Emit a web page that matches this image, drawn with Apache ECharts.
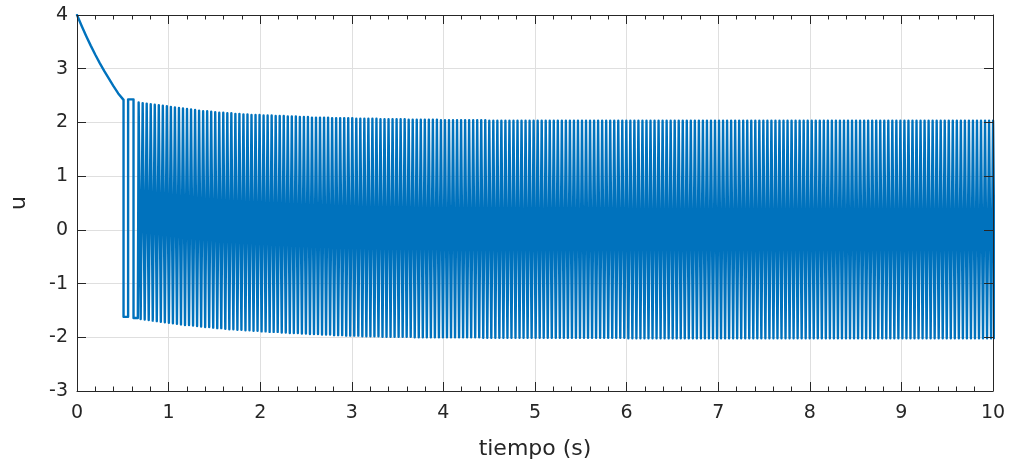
<!DOCTYPE html>
<html>
<head>
<meta charset="utf-8">
<script src="https://cdn.jsdelivr.net/npm/echarts@6/dist/echarts.min.js"></script>
<style>html,body{margin:0;padding:0;background:#fff;}#c{width:1012px;height:470px;}</style>
</head>
<body>
<div id="c"></div>
<script>
// ---- data ----
const xTicks = [0,1,2,3,4,5,6,7,8,9,10];
const yTicks = [-3,-2,-1,0,1,2,3,4];

// initial decay segment (s, u)
const decayT = [0, 0.05, 0.10, 0.15, 0.20, 0.25, 0.30, 0.35, 0.40, 0.45, 0.508];
const decayU = [4.00, 3.80, 3.61, 3.43, 3.26, 3.10, 2.95, 2.81, 2.67, 2.54, 2.42];

// first isolated switching pulses (s, u)
const earlyT = [0.508, 0.558, 0.558, 0.617, 0.617];
const earlyU = [-1.62, -1.62, 2.43, 2.43, -1.64];

// chattering: per cycle rise time and fall time (ms), high and low level (hundredths)
const edgeMs = 9;
const riseMs = [
664,708,752,796,840,884,928,972,1016,1060,
1104,1148,1192,1236,1280,1324,1368,1412,1456,1500,
1544,1588,1632,1676,1720,1764,1808,1852,1896,1940,
1984,2028,2072,2116,2160,2204,2248,2292,2336,2380,
2424,2468,2512,2556,2600,2644,2688,2732,2776,2820,
2864,2908,2952,2996,3040,3084,3128,3172,3216,3260,
3304,3348,3392,3436,3480,3524,3568,3612,3656,3700,
3744,3788,3832,3876,3920,3964,4008,4052,4096,4140,
4184,4228,4272,4316,4360,4404,4448,4492,4536,4580,
4624,4668,4712,4756,4800,4844,4888,4932,4976,5020,
5064,5108,5152,5196,5240,5284,5328,5372,5416,5460,
5504,5548,5592,5636,5680,5724,5768,5812,5856,5900,
5944,5988,6032,6076,6120,6164,6208,6252,6296,6340,
6384,6428,6472,6516,6560,6604,6648,6692,6736,6780,
6824,6868,6912,6956,7000,7044,7088,7132,7176,7220,
7264,7308,7352,7396,7440,7484,7528,7572,7616,7660,
7704,7748,7792,7836,7880,7924,7968,8012,8056,8100,
8144,8188,8232,8276,8320,8364,8408,8452,8496,8540,
8584,8628,8672,8716,8760,8804,8848,8892,8936,8980,
9024,9068,9112,9156,9200,9244,9288,9332,9376,9420,
9464,9508,9552,9596,9640,9684,9728,9772,9816,9860,
9904,9948,9992];
const fallMs = [
686,730,774,818,862,906,950,994,1038,1082,
1126,1170,1214,1258,1302,1346,1390,1434,1478,1522,
1566,1610,1654,1698,1742,1786,1830,1874,1918,1962,
2006,2050,2094,2138,2182,2226,2270,2314,2358,2402,
2446,2490,2534,2578,2622,2666,2710,2754,2798,2842,
2886,2930,2974,3018,3062,3106,3150,3194,3238,3282,
3326,3370,3414,3458,3502,3546,3590,3634,3678,3722,
3766,3810,3854,3898,3942,3986,4030,4074,4118,4162,
4206,4250,4294,4338,4382,4426,4470,4514,4558,4602,
4646,4690,4734,4778,4822,4866,4910,4954,4998,5042,
5086,5130,5174,5218,5262,5306,5350,5394,5438,5482,
5526,5570,5614,5658,5702,5746,5790,5834,5878,5922,
5966,6010,6054,6098,6142,6186,6230,6274,6318,6362,
6406,6450,6494,6538,6582,6626,6670,6714,6758,6802,
6846,6890,6934,6978,7022,7066,7110,7154,7198,7242,
7286,7330,7374,7418,7462,7506,7550,7594,7638,7682,
7726,7770,7814,7858,7902,7946,7990,8034,8078,8122,
8166,8210,8254,8298,8342,8386,8430,8474,8518,8562,
8606,8650,8694,8738,8782,8826,8870,8914,8958,9002,
9046,9090,9134,9178,9222,9266,9310,9354,9398,9442,
9486,9530,9574,9618,9662,9706,9750,9794,9838,9882,
9926,9970,10014];
const hiLevel = [
237,236,235,234,233,232,231,230,229,228,
227,226,225,224,223,222,221,221,220,219,
218,218,217,217,216,216,215,215,214,214,
214,213,213,213,212,212,212,211,211,211,
210,210,210,209,209,209,209,209,208,208,
208,208,208,208,207,207,207,207,207,207,
206,206,206,206,206,206,206,205,205,205,
205,205,205,205,205,204,204,204,204,204,
204,204,204,204,204,204,204,203,203,203,
203,203,203,203,203,203,203,203,203,203,
203,203,203,203,203,203,203,203,203,203,
203,203,203,203,203,203,203,203,203,203,
203,203,203,203,203,203,203,203,203,203,
203,203,203,203,203,203,203,203,203,203,
203,203,203,203,203,203,203,203,203,203,
203,203,203,203,203,203,203,203,203,203,
203,203,203,203,203,203,203,203,203,203,
203,203,203,203,203,203,203,203,203,203,
203,203,203,203,203,203,203,203,203,203,
203,203,203,203,203,203,203,203,203,203,
203,203,203,203,203,203,203,203,203,203,
203,203,203];
const loLevel = [
-166,-167,-168,-169,-170,-171,-172,-173,-174,-175,
-176,-177,-177,-178,-179,-180,-181,-181,-182,-183,
-183,-184,-185,-185,-186,-186,-187,-187,-188,-188,
-189,-189,-190,-190,-190,-191,-191,-192,-192,-192,
-193,-193,-194,-194,-194,-195,-195,-195,-196,-196,
-196,-197,-197,-197,-197,-198,-198,-198,-198,-198,
-199,-199,-199,-199,-199,-199,-199,-199,-200,-200,
-200,-200,-200,-200,-200,-200,-200,-200,-200,-200,
-200,-200,-200,-200,-200,-201,-201,-201,-201,-201,
-201,-201,-201,-201,-201,-201,-201,-201,-201,-201,
-201,-201,-201,-201,-201,-201,-201,-201,-201,-201,
-201,-201,-201,-201,-201,-201,-201,-201,-201,-201,
-201,-202,-202,-202,-202,-202,-202,-202,-202,-202,
-202,-202,-202,-202,-202,-202,-202,-202,-202,-202,
-202,-202,-202,-202,-202,-202,-202,-202,-202,-202,
-202,-202,-202,-202,-202,-202,-202,-202,-202,-202,
-202,-202,-202,-202,-202,-202,-202,-202,-202,-202,
-202,-202,-202,-202,-202,-202,-202,-202,-202,-202,
-202,-202,-202,-202,-202,-202,-202,-202,-202,-202,
-202,-202,-202,-202,-202,-202,-202,-202,-202,-202,
-202,-202,-202,-202,-202,-202,-202,-202,-202,-202,
-202,-202,-202];

// ---- build the series table from the arrays ----
const pts = [];
for (let i = 0; i < decayT.length; i++) pts.push([decayT[i], decayU[i]]);
for (let i = 0; i < earlyT.length; i++) pts.push([earlyT[i], earlyU[i]]);
let prevLo = earlyU[earlyU.length - 1];
const n = Math.min(riseMs.length, fallMs.length, hiLevel.length, loLevel.length);
for (let k = 0; k < n; k++) {
  const hi = hiLevel[k] / 100, lo = loLevel[k] / 100;
  pts.push([riseMs[k] / 1000, prevLo]);
  pts.push([(riseMs[k] + edgeMs) / 1000, hi]);
  pts.push([fallMs[k] / 1000, hi]);
  pts.push([(fallMs[k] + edgeMs) / 1000, lo]);
  prevLo = lo;
}

const axisColor = '#262626';
const FONT = '"DejaVu Sans", "Liberation Sans", Arial, sans-serif';
const tickStyle = {color: axisColor, width: 1};
const chart = echarts.init(document.getElementById('c'), null, {renderer: 'canvas'});
chart.setOption({
  animation: false,
  backgroundColor: '#ffffff',
  grid: {left: 75, right: 19, top: 15, bottom: 79, containLabel: false},
  xAxis: [{
    type: 'value', min: xTicks[0], max: xTicks[xTicks.length - 1], interval: 1,
    position: 'bottom',
    name: 'tiempo (s)', nameLocation: 'middle', nameGap: 47,
    nameTextStyle: {color: axisColor, fontSize: 22, fontFamily: FONT},
    axisLine: {show: true, onZero: false, lineStyle: {color: axisColor, width: 1}},
    axisTick: {show: true, inside: true, length: 9, lineStyle: tickStyle},
    minorTick: {show: true, splitNumber: 5, length: 4.5, lineStyle: tickStyle},
    axisLabel: {color: axisColor, fontSize: 19, fontFamily: FONT, margin: 13},
    splitLine: {show: true, lineStyle: {color: '#dfdfdf', width: 1}}
  }, {
    type: 'value', min: xTicks[0], max: xTicks[xTicks.length - 1], interval: 1,
    position: 'top', z: 5,
    axisLine: {show: true, onZero: false, lineStyle: {color: axisColor, width: 1}},
    axisTick: {show: true, inside: true, length: 9, lineStyle: tickStyle},
    minorTick: {show: true, splitNumber: 5, length: 4.5, lineStyle: tickStyle},
    axisLabel: {show: false}, splitLine: {show: false}
  }],
  yAxis: [{
    type: 'value', min: yTicks[0], max: yTicks[yTicks.length - 1], interval: 1,
    position: 'left',
    name: 'u', nameLocation: 'middle', nameGap: 47,
    nameTextStyle: {color: axisColor, fontSize: 22, fontFamily: FONT},
    axisLine: {show: true, onZero: false, lineStyle: {color: axisColor, width: 1}},
    axisTick: {show: true, inside: true, length: 9, lineStyle: tickStyle},
    axisLabel: {color: axisColor, fontSize: 19, fontFamily: FONT, margin: 9},
    splitLine: {show: true, lineStyle: {color: '#dfdfdf', width: 1}}
  }, {
    type: 'value', min: yTicks[0], max: yTicks[yTicks.length - 1], interval: 1,
    position: 'right', z: 5,
    axisLine: {show: true, onZero: false, lineStyle: {color: axisColor, width: 1}},
    axisTick: {show: true, inside: true, length: 9, lineStyle: tickStyle},
    axisLabel: {show: false}, splitLine: {show: false}
  }],
  series: [{
    type: 'line', data: pts, xAxisIndex: 0, yAxisIndex: 0,
    showSymbol: false, symbol: 'none', clip: true,
    lineStyle: {color: '#0072BD', width: 2.4, join: 'round', cap: 'round'},
    z: 2
  }]
});
</script>
</body>
</html>
